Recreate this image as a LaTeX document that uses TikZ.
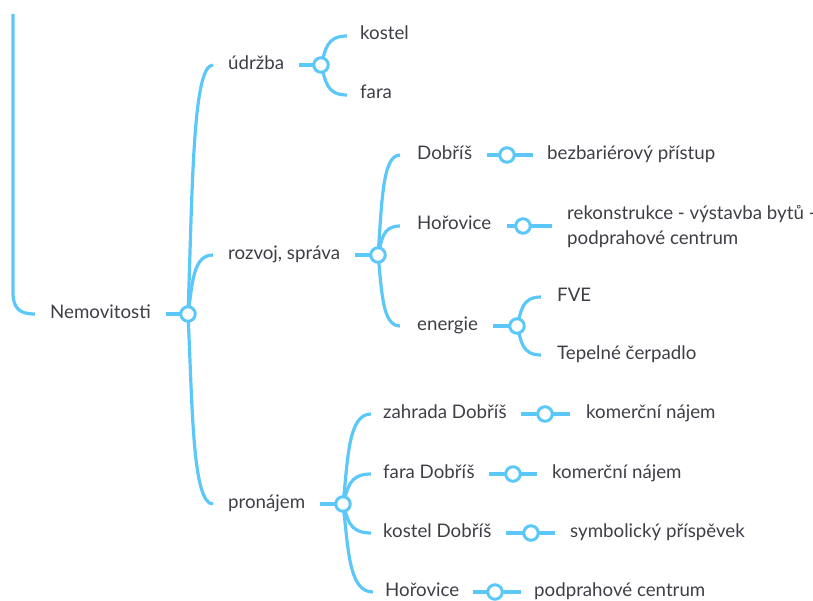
\documentclass[tikz,border=0pt]{standalone}
\usepackage{fontspec}
\setmainfont{Lato}
\usetikzlibrary{calc,backgrounds}
\definecolor{mmblue}{RGB}{92,200,250}
\definecolor{mmtext}{RGB}{62,62,70}
\begin{document}
\begin{tikzpicture}[x=1pt,y=-1pt,
  lbl/.style={anchor=mid west, inner sep=0pt, text=mmtext, font=\fontsize{18.7}{25}\selectfont},
  knot/.style={circle, draw=mmblue, fill=white, line width=3pt, minimum size=14.5pt, inner sep=0pt},
  link/.style={draw=mmblue, line width=3.2pt},
  trunk/.style={to path={let \p1=(\tikztostart), \p2=(\tikztotarget) in (\p1) -- ({\x1},{\y2+22pt}) .. controls ({\x1},{\y2+6pt}) and ({\x1+6pt},\y2) .. (\p2)}},
  br/.style={to path={let \p1=(\tikztostart), \p2=(\tikztotarget) in (\p1) .. controls ({\x1+0.18*(\x2-\x1)},{0.5*(\y1+\y2)}) and ({\x1+0.18*(\x2-\x1)},\y2) .. (\p2)}}
]
\useasboundingbox (0,0) rectangle (813,601);
% texts
\node[lbl] (nem) at (50,316) {Nemovitosti};
\node[lbl] (udrzba) at (228,67) {údržba};
\node[lbl] (kostel) at (360,37) {kostel};
\node[lbl] (fara) at (360,96) {fara};
\node[lbl] (rozvoj) at (228,257) {rozvoj, správa};
\node[lbl] (dobris) at (417,157) {Dobříš};
\node[lbl] (bezbar) at (547,157) {bezbariérový přístup};
\node[lbl] (horovice) at (417,227) {Hořovice};
\node[lbl, anchor=west, align=left] (rekon) at (567,227) {rekonstrukce - výstavba bytů -\\podprahové centrum};
\node[lbl] (energie) at (417,328) {energie};
\node[lbl] (fve) at (557,299) {FVE};
\node[lbl] (tepelne) at (557,357) {Tepelné čerpadlo};
\node[lbl] (pronajem) at (228,506) {pronájem};
\node[lbl] (zahrada) at (383,416) {zahrada Dobříš};
\node[lbl] (komerc1) at (586,416) {komerční nájem};
\node[lbl] (faraD) at (383,476) {fara Dobříš};
\node[lbl] (komerc2) at (552,476) {komerční nájem};
\node[lbl] (kostelD) at (383,535) {kostel Dobříš};
\node[lbl] (symb) at (570,535) {symbolický příspěvek};
\node[lbl] (horovice2) at (385,594) {Hořovice};
\node[lbl] (podpr) at (534,594) {podprahové centrum};
% knots
\node[knot] (c0) at (188,314) {};
\node[knot] (c1) at (321,65) {};
\node[knot] (c2) at (378,255) {};
\node[knot] (c3) at (507,155) {};
\node[knot] (c4) at (523,226) {};
\node[knot] (c5) at (517,326) {};
\node[knot] (c6) at (343,504) {};
\node[knot] (c7) at (545,414) {};
\node[knot] (c8) at (513,474) {};
\node[knot] (c9) at (531,533) {};
\node[knot] (c10) at (495,592) {};
\coordinate (up) at (13,14);
\begin{scope}[on background layer]
% incoming root branch
\draw[link] (up) to[trunk] ([xshift=-15pt]c0 -| nem.west);
% text -> knot
\draw[link] ([xshift=15pt]c0 -| nem.east) -- (c0.center);
\draw[link] ([xshift=15pt]c1 -| udrzba.east) -- (c1.center);
\draw[link] ([xshift=15pt]c2 -| rozvoj.east) -- (c2.center);
\draw[link] ([xshift=15pt]c3 -| dobris.east) -- (c3.center) -- ([xshift=-14pt]c3 -| bezbar.west);
\draw[link] ([xshift=15pt]c4 -| horovice.east) -- (c4.center) -- ([xshift=-15pt]c4 -| rekon.west);
\draw[link] ([xshift=15pt]c5 -| energie.east) -- (c5.center);
\draw[link] ([xshift=15pt]c6 -| pronajem.east) -- (c6.center);
\draw[link] ([xshift=14pt]c7 -| zahrada.east) -- (c7.center) -- ([xshift=-16pt]c7 -| komerc1.west);
\draw[link] ([xshift=14pt]c8 -| faraD.east) -- (c8.center) -- ([xshift=-15pt]c8 -| komerc2.west);
\draw[link] ([xshift=14pt]c9 -| kostelD.east) -- (c9.center) -- ([xshift=-15pt]c9 -| symb.west);
\draw[link] ([xshift=13pt]c10 -| horovice2.east) -- (c10.center) -- ([xshift=-13pt]c10 -| podpr.west);
% branches
\draw[link] (c0) to[br] ([xshift=-15pt]c1 -| udrzba.west);
\draw[link] (c0) to[br] ([xshift=-15pt]c2 -| rozvoj.west);
\draw[link] (c0) to[br] ([xshift=-15pt]c6 -| pronajem.west);
\draw[link] (c1) to[br] ([xshift=-13pt,yshift=-30pt]c1 -| kostel.west);
\draw[link] (c1) to[br] ([xshift=-13pt,yshift=29pt]c1 -| fara.west);
\draw[link] (c2) to[br] ([xshift=-17pt]c3 -| dobris.west);
\draw[link] (c2) to[br] ([xshift=-17pt]c4 -| horovice.west);
\draw[link] (c2) to[br] ([xshift=-17pt]c5 -| energie.west);
\draw[link] (c5) to[br] ([xshift=-16pt,yshift=-29pt]c5 -| fve.west);
\draw[link] (c5) to[br] ([xshift=-16pt,yshift=29pt]c5 -| tepelne.west);
\draw[link] (c6) to[br] ([xshift=-12pt]c7 -| zahrada.west);
\draw[link] (c6) to[br] ([xshift=-12pt]c8 -| faraD.west);
\draw[link] (c6) to[br] ([xshift=-12pt]c9 -| kostelD.west);
\draw[link] (c6) to[br] ([xshift=-12pt]c10 -| horovice2.west);
\end{scope}
\end{tikzpicture}
\end{document}
